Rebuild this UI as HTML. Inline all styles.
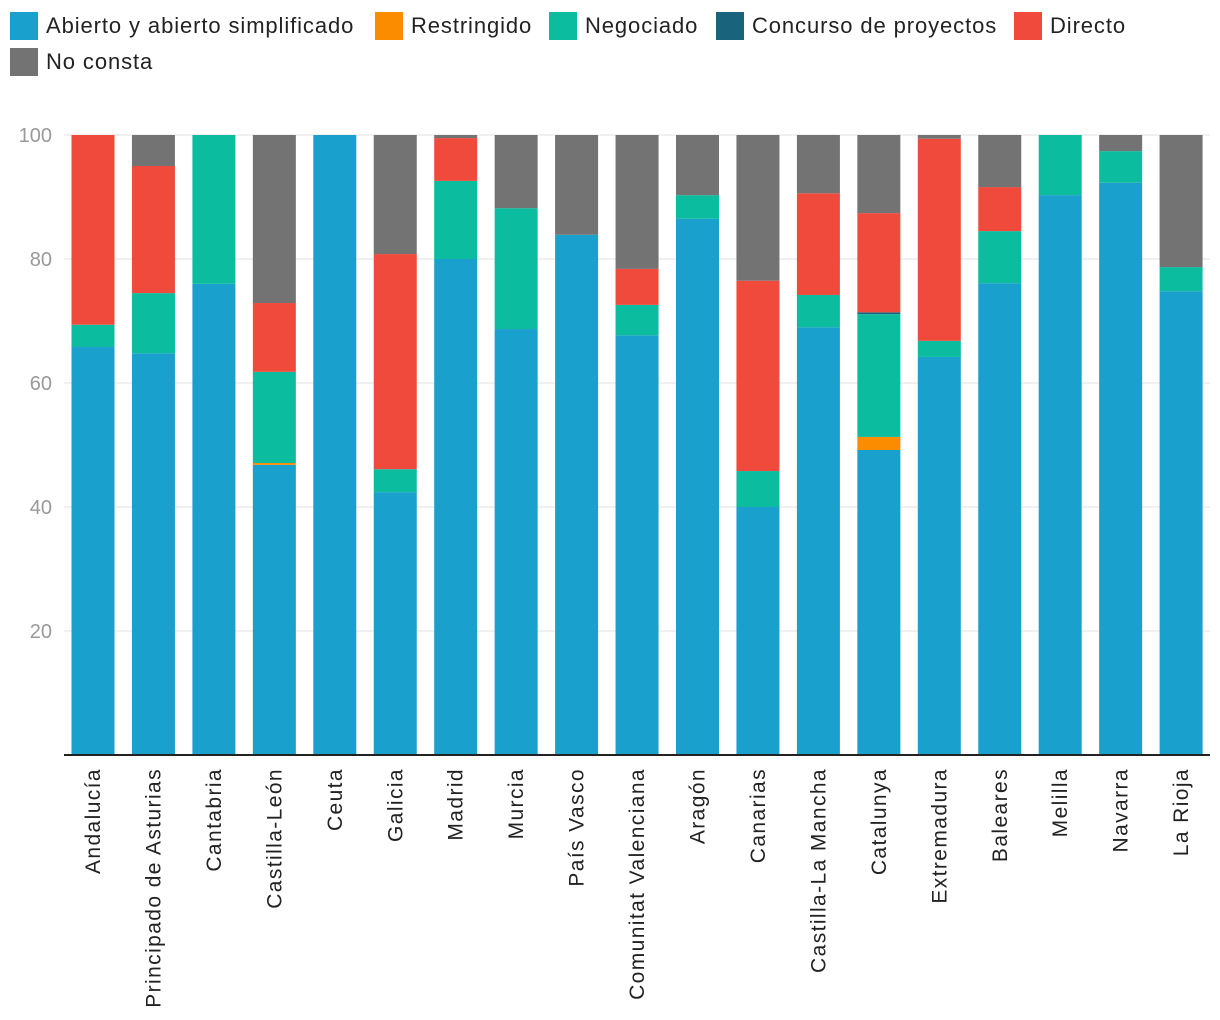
<!DOCTYPE html>
<html><head><meta charset="utf-8"><style>
body{margin:0;background:#fff;font-family:"Liberation Sans",sans-serif}
.leg{position:absolute;font-size:22px;color:#222;display:flex;align-items:center;letter-spacing:0.9px}
.leg span.sw{width:28px;height:28px;margin-right:8px;display:inline-block}
</style></head><body>
<div style="position:relative;width:1220px;height:1020px">
<div class="leg" style="left:10px;top:12px"><span class="sw" style="background:#19a0cc"></span>Abierto y abierto simplificado</div>
<div class="leg" style="left:375px;top:12px"><span class="sw" style="background:#fb8c00"></span>Restringido</div>
<div class="leg" style="left:549px;top:12px"><span class="sw" style="background:#0bbd9e"></span>Negociado</div>
<div class="leg" style="left:716px;top:12px"><span class="sw" style="background:#1a637d"></span>Concurso de proyectos</div>
<div class="leg" style="left:1014px;top:12px"><span class="sw" style="background:#f04a3d"></span>Directo</div>
<div class="leg" style="left:10px;top:48px"><span class="sw" style="background:#737373"></span>No consta</div>
<svg id="chart" width="1220" height="1020" style="position:absolute;left:0;top:0"></svg>
</div>
<script>
const categories=["Andalucía","Principado de Asturias","Cantabria","Castilla-León","Ceuta","Galicia","Madrid","Murcia","País Vasco","Comunitat Valenciana","Aragón","Canarias","Castilla-La Mancha","Catalunya","Extremadura","Baleares","Melilla","Navarra","La Rioja"];
const abierto=[65.8,64.8,76,46.8,100,42.4,80,68.7,83.9,67.7,86.5,40,69,49.2,64.2,76.1,90.3,92.3,74.8];
const restringido=[0,0,0,0.3,0,0,0,0,0,0,0,0,0,2.1,0,0,0,0,0];
const negociado=[3.6,9.7,24,14.7,0,3.7,12.6,19.5,0,4.9,3.8,5.8,5.2,19.8,2.6,8.4,9.7,5.1,3.9];
const concurso=[0,0,0,0,0,0,0,0,0,0,0,0,0,0.3,0,0,0,0,0];
const directo=[30.6,20.5,0,11.1,0,34.7,6.9,0,0,5.8,0,30.7,16.4,16,32.6,7.1,0,0,0];
const noConsta=[0,5,0,27.1,0,19.2,0.5,11.8,16.1,21.6,9.7,23.5,9.4,12.6,0.6,8.4,0,2.6,21.3];
const yTicks=[20,40,60,80,100];
const series=[[abierto,"#19a0cc","abierto"],[restringido,"#fb8c00","restringido"],[negociado,"#0bbd9e","negociado"],[concurso,"#1a637d","concurso"],[directo,"#f04a3d","directo"],[noConsta,"#737373","no-consta"]];
const svg=document.getElementById("chart"),NS="http://www.w3.org/2000/svg";
const y=v=>755-v*6.2, x=i=>93+i*60.45, bw=43;
function mk(t,a){const e=document.createElementNS(NS,t);for(const k in a)e.setAttribute(k,a[k]);svg.appendChild(e);return e;}
yTicks.forEach(t=>{
 const l=mk("line",{x1:64,x2:1210,y1:y(t),y2:y(t),stroke:"#e0e0e0","stroke-width":1});
 
 
 const tx=mk("text",{x:52,y:y(t)+7,"text-anchor":"end","font-size":20,fill:"#999"});tx.textContent=t;
 
 
});
categories.forEach((c,i)=>{
 let acc=0;
 series.forEach(([arr,col,nm])=>{const v=arr[i];if(v>0){
  const r=mk("rect",{x:x(i)-bw/2,y:y(acc+v),width:bw,height:v*6.2,fill:col});
  
  
  }acc+=v;});
 const t=mk("text",{transform:`translate(${x(i)+7},768) rotate(-90)`,"text-anchor":"end","font-size":21,"letter-spacing":1.4,fill:"#222"});t.textContent=c;
 
 
});
const b=mk("line",{x1:64,x2:1210,y1:755,y2:755,stroke:"#222","stroke-width":2});


</script></body></html>
